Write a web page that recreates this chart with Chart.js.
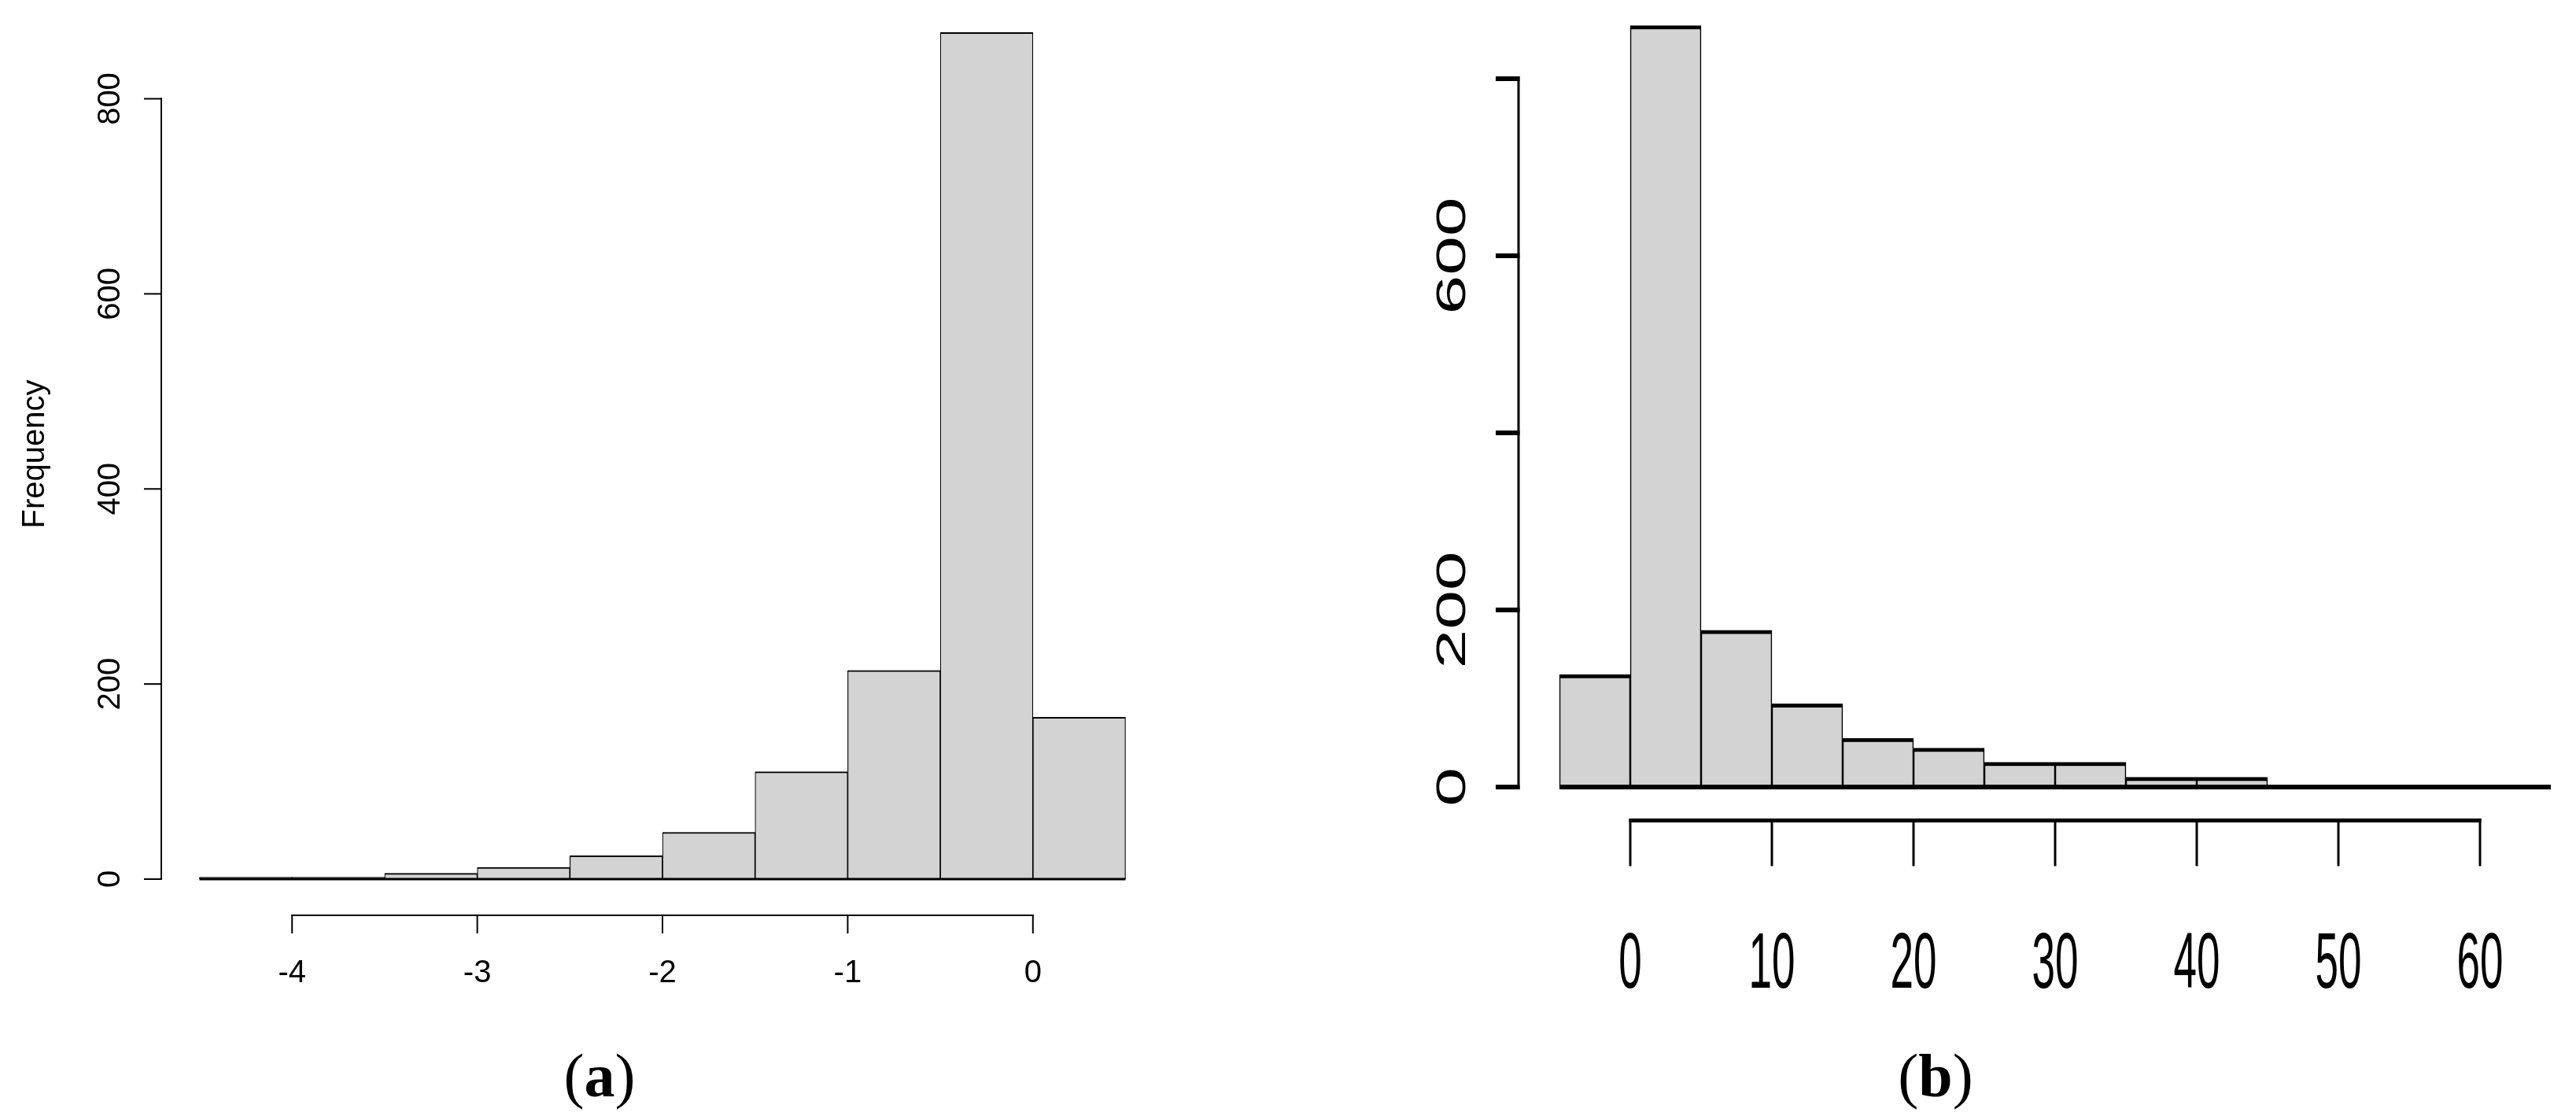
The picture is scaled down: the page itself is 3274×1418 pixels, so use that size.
<!DOCTYPE html>
<html>
<head>
<meta charset="utf-8">
<script src="https://cdn.jsdelivr.net/npm/chart.js@4.4.1/dist/chart.umd.min.js"></script>
<style>
  html, body { margin: 0; padding: 0; background: #fff; }
  body { width: 3274px; height: 1418px; position: relative; overflow: hidden; }
  canvas { position: absolute; top: 0; }
  #chartA { left: 0; }
  #chartB { left: 1637px; }
  .caption {
    position: absolute; top: 1328px; width: 300px; height: 78px;
    text-align: center; color: #000;
    font-family: "Liberation Serif", "Times New Roman", serif;
    font-size: 78px; line-height: 78px;
  }
</style>
</head>
<body>
<canvas id="chartA" width="1637" height="1300"></canvas>
<canvas id="chartB" width="1637" height="1300"></canvas>
<div class="caption" style="left:612px">(<b>a</b>)</div>
<div class="caption" style="left:2310px">(<b>b</b>)</div>
<script>
// (a) histogram, bins of 0.5
const binEdgesA = [-4.5, -4, -3.5, -3, -2.5, -2, -1.5, -1, -0.5, 0, 0.5];
const countsA = [2, 2, 6, 12, 24, 48, 110, 214, 868, 166];
const xTicksA = [-4, -3, -2, -1, 0];
const yTicksA = [0, 200, 400, 600, 800];
const yTickLabelsA = ['0', '200', '400', '600', '800'];
const yTitleA = 'Frequency';

// (b) histogram, bins of 5
const binEdgesB = [-5, 0, 5, 10, 15, 20, 25, 30, 35, 40, 45, 50, 55, 60, 65];
const countsB = [127, 860, 177, 94, 55, 44, 28, 28, 11, 11, 0, 0, 0, 0];
const xTicksB = [0, 10, 20, 30, 40, 50, 60];
const yTicksB = [0, 200, 400, 600, 800];
const yTickLabelsB = ['0', '200', '', '600', ''];

const FONT = '"Liberation Sans", Arial, sans-serif';

function drawLabel(ctx, text, x, y, size, rot, sx, sy) {
    ctx.save();
    ctx.translate(x, y);
    ctx.rotate(rot);
    ctx.scale(sx, sy);
    ctx.font = size + 'px ' + FONT;
    ctx.textAlign = 'center';
    ctx.textBaseline = 'alphabetic';
    ctx.fillText(text, 0, 0);
    ctx.restore();
}

function seg(ctx, x1, y1, x2, y2, w) {
    ctx.lineWidth = w;
    ctx.beginPath();
    ctx.moveTo(x1, y1);
    ctx.lineTo(x2, y2);
    ctx.stroke();
}

// R style axes: detached lines running from first to last tick
const rAxes = {
    id: 'rAxes',
    afterDraw(chart, args, o) {
        const ctx = chart.ctx;
        const xs = chart.scales.x, ys = chart.scales.y;
        ctx.save();
        ctx.strokeStyle = '#000';
        ctx.fillStyle = '#000';
        ctx.lineCap = 'butt';

        // y axis
        const yFirst = ys.getPixelForValue(o.yTicks[0]);
        const yLast = ys.getPixelForValue(o.yTicks[o.yTicks.length - 1]);
        seg(ctx, o.yAxisX, yFirst + o.yTickW / 2, o.yAxisX, yLast - o.yTickW / 2, o.yAxisW);
        o.yTicks.forEach((v, i) => {
            const py = ys.getPixelForValue(v);
            seg(ctx, o.yAxisX + o.yAxisW / 2, py, o.yAxisX - o.yTickLen, py, o.yTickW);
            if (o.yLabels[i]) {
                drawLabel(ctx, o.yLabels[i], o.yLabelBase, py, o.yLabelSize, -Math.PI / 2, o.yLabelStretch, 1);
            }
        });

        // x axis
        const xFirst = xs.getPixelForValue(o.xTicks[0]);
        const xLast = xs.getPixelForValue(o.xTicks[o.xTicks.length - 1]);
        seg(ctx, xFirst - o.xTickW / 2, o.xAxisY, xLast + o.xTickW / 2, o.xAxisY, o.xAxisW);
        o.xTicks.forEach(v => {
            const px = xs.getPixelForValue(v);
            seg(ctx, px, o.xAxisY - o.xAxisW / 2, px, o.xAxisY + o.xTickLen, o.xTickW);
            drawLabel(ctx, String(v), px, o.xLabelBase, o.xLabelSize, 0, 1, o.xLabelStretch);
        });

        if (o.title) {
            drawLabel(ctx, o.title, o.titleBase, o.titleY, o.titleSize, -Math.PI / 2, 1, 1);
        }
        ctx.restore();
    }
};

function makeHist(id, edges, counts, border, baseW, padding, axes) {
    const bars = counts.map((c, i) => ({ x: (edges[i] + edges[i + 1]) / 2, y: c }));
    const base = [{ x: edges[0], y: 0 }, { x: edges[edges.length - 1], y: 0 }];
    return new Chart(document.getElementById(id), {
        type: 'bar',
        data: {
            datasets: [{
                type: 'line',
                data: base,
                borderColor: '#000',
                borderWidth: baseW,
                pointRadius: 0,
                clip: false,
                order: 0
            }, {
                type: 'bar',
                data: bars,
                backgroundColor: '#d3d3d3',
                borderColor: '#000',
                borderWidth: border,
                borderSkipped: false,
                barPercentage: 1,
                categoryPercentage: 1,
                clip: false,
                order: 1
            }]
        },
        options: {
            responsive: false,
            devicePixelRatio: 1,
            animation: false,
            events: [],
            layout: { padding: padding },
            scales: {
                x: {
                    type: 'linear',
                    display: false,
                    offset: false,
                    min: edges[0],
                    max: edges[edges.length - 1],
                    ticks: { stepSize: edges[1] - edges[0] }
                },
                y: {
                    type: 'linear',
                    display: false,
                    min: axes.yTicks[0],
                    max: axes.yTicks[axes.yTicks.length - 1]
                }
            },
            plugins: {
                legend: { display: false },
                tooltip: { enabled: false },
                rAxes: axes
            }
        },
        plugins: [rAxes]
    });
}

makeHist('chartA', binEdgesA, countsA,
    { top: 2, right: 1.2, bottom: 0, left: 1.2 }, 3,
    { left: 253.5, right: 206.5, top: 125.5, bottom: 183 },
    {
        xTicks: xTicksA, yTicks: yTicksA, yLabels: yTickLabelsA, title: yTitleA,
        yAxisX: 205, yAxisW: 2, yTickLen: 22, yTickW: 2,
        yLabelBase: 152, yLabelSize: 40, yLabelStretch: 1,
        xAxisY: 1163, xAxisW: 2, xTickLen: 23, xTickW: 2,
        xLabelBase: 1248, xLabelSize: 40, xLabelStretch: 1,
        titleBase: 56, titleY: 577, titleSize: 40
    });

makeHist('chartB', binEdgesB, countsB,
    { top: 5, right: 1.6, bottom: 0, left: 1.6 }, 6,
    { left: 345, right: 32, top: 100, bottom: 300 },
    {
        xTicks: xTicksB, yTicks: yTicksB, yLabels: yTickLabelsB, title: '',
        yAxisX: 293, yAxisW: 3, yTickLen: 29, yTickW: 6,
        yLabelBase: 225, yLabelSize: 52, yLabelStretch: 1.72,
        xAxisY: 1042.5, xAxisW: 5, xTickLen: 58, xTickW: 3,
        xLabelBase: 1255, xLabelSize: 53, xLabelStretch: 1.9
    });
</script>
</body>
</html>
